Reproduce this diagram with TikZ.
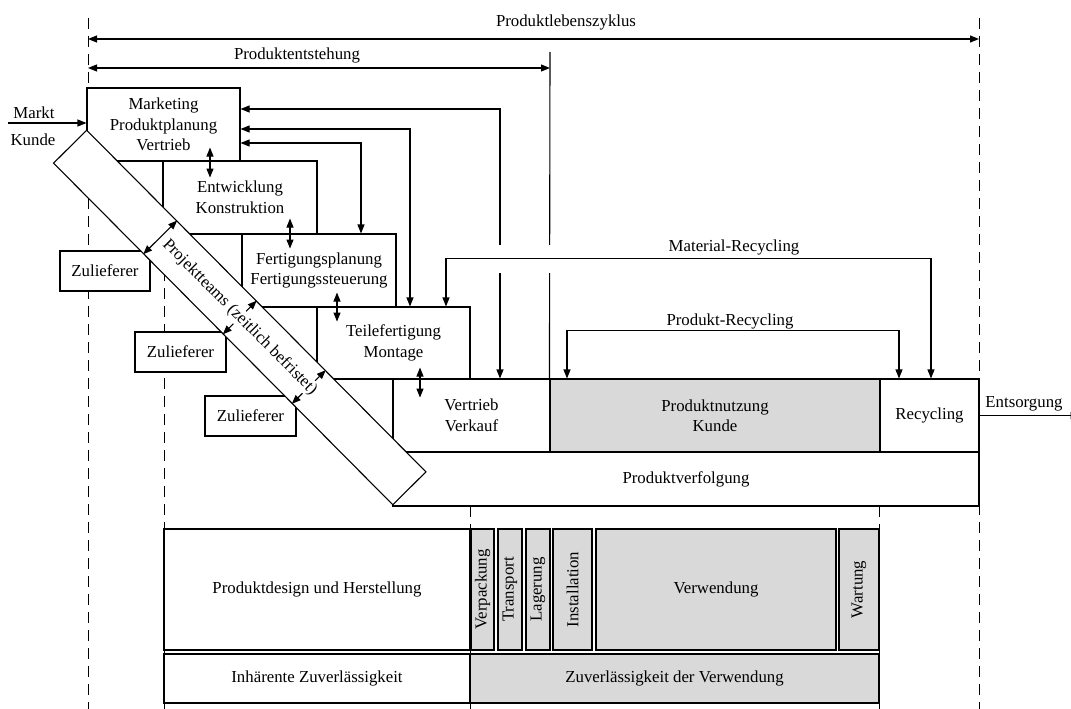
\documentclass[tikz,border=0pt]{standalone}
\usepackage{fontspec}
\setmainfont{Liberation Serif}
\usetikzlibrary{arrows.meta,calc}
\definecolor{usegray}{gray}{0.85}
\begin{document}
\begin{tikzpicture}[x=1pt,y=-1pt,
  every node/.style={font=\fontsize{16.8}{20.5}\selectfont, inner sep=0pt},
  box/.style={draw, fill=white, line width=1.1pt, align=center},
  shadebox/.style={box, fill=usegray},
  conn/.style={line width=1.1pt},
  dbl/.style={conn, {Triangle[length=9pt,width=7pt]}-{Triangle[length=9pt,width=7pt]}},
  arr/.style={conn, -{Triangle[length=9pt,width=7pt]}},
  border/.style={line width=1pt, dash pattern=on 11pt off 7pt},
]
\useasboundingbox (0,0) rectangle (1071,709);

% phase boundaries
\draw[border] (88,18) -- (88,709);
\draw[border] (979,18) -- (979,709);
\draw[border] (164,234) -- (164,709);
\draw[border] (470,506) -- (470,709);
\draw[border] (879,506) -- (879,709);

% life cycle spans
\node (plz) at (566,22) {Produktlebenszyklus};
\coordinate (plzL) at (88,39);
\coordinate (plzR) at (979,39);
\draw[dbl] (plzL) -- (plzR);
\node (pe) at (297,55) {Produktentstehung};
\coordinate (peL) at (88,68);
\coordinate (peR) at (550,68);
\draw[dbl] (peL) -- (peR);
\coordinate (peTop) at (550,52);

% suppliers
\node[box, minimum width=90pt, minimum height=40pt] (z1) at (105,271) {Zulieferer};
\node[box, minimum width=91pt, minimum height=40pt] (z2) at (180.5,352) {Zulieferer};
\node[box, minimum width=91pt, minimum height=40pt] (z3) at (250.5,416) {Zulieferer};

% process staircase
\node[box, minimum width=153pt, minimum height=73pt] (mkt) at (163.5,124.5) {Marketing\\Produktplanung\\Vertrieb};
\node[box, minimum width=154pt, minimum height=73pt] (ent) at (240,197.5) {Entwicklung\\Konstruktion};
\node[box, minimum width=154pt, minimum height=73pt] (fpl) at (319,270.5) {Fertigungsplanung\\Fertigungssteuerung};
\node[box, minimum width=153pt, minimum height=72pt] (tfm) at (393.5,343) {Teilefertigung\\Montage};
\node[box, minimum width=157pt, minimum height=73pt] (vtr) at (471.5,415.5) {Vertrieb\\Verkauf};
\node[shadebox, minimum width=330pt, minimum height=73pt] (nutz) at (715,415.5) {Produktnutzung\\Kunde};
\node[box, minimum width=99pt, minimum height=73pt] (rec) at (929.5,415.5) {Recycling};
\node[box, minimum width=586pt, minimum height=54pt] (pv) at (686,479) {Produktverfolgung};

% reliability blocks
\node[box, minimum width=306pt, minimum height=121pt] (pdh) at (317,589.5) {Produktdesign und Herstellung};
\node[shadebox, rotate=90, minimum width=121pt, minimum height=23pt] (vp) at (482.5,589.5) {Verpackung};
\node[shadebox, rotate=90, minimum width=121pt, minimum height=24pt] (tr) at (510,589.5) {Transport};
\node[shadebox, rotate=90, minimum width=121pt, minimum height=24pt] (lg) at (538,589.5) {Lagerung};
\node[shadebox, rotate=90, minimum width=121pt, minimum height=39pt] (ins) at (572.5,589.5) {Installation};
\node[shadebox, minimum width=240pt, minimum height=121pt] (vw) at (716,589.5) {Verwendung};
\node[shadebox, rotate=90, minimum width=121pt, minimum height=40pt] (wt) at (859,589.5) {Wartung};
\node[box, minimum width=306pt, minimum height=49pt] (iz) at (317,678.5) {Inhärente Zuverlässigkeit};
\node[shadebox, minimum width=409pt, minimum height=49pt] (zv) at (674.5,678.5) {Zuverlässigkeit der Verwendung};

% feedback from marketing
\draw[dbl] ($(mkt.east)+(0,-15.5)$) -| ($(vtr.north)+(28.5,0)$);
\draw[dbl] ($(mkt.east)+(0,4.5)$) -| ($(tfm.north)+(16.5,0)$);
\draw[dbl] ($(mkt.east)+(0,18.5)$) -| ($(fpl.north)+(42,0)$);
\draw[conn] (peTop) -- (nutz.north west);

% line crossings under the material loop
\fill[white] (494,245) rectangle (506,273);
\fill[white] (544,245) rectangle (556,273);

% recycling loops
\draw[dbl] ($(tfm.north)+(52.5,0)$) -- ++(0,-48) -| ($(rec.north)+(1.5,0)$);
\node (lmat) at (734,247) {Material-Recycling};
\draw[dbl] ($(nutz.north)+(-148,0)$) -- ++(0,-48) -| ($(rec.north)+(-30.5,0)$);
\node (lprod) at (730,321) {Produkt-Recycling};

% hand-overs between stages
\draw[dbl] ($(mkt.south)+(46.5,-14)$) -- ($(mkt.south)+(46.5,16)$);
\draw[dbl] ($(ent.south)+(50,-16)$) -- ($(ent.south)+(50,14)$);
\draw[dbl] ($(fpl.south)+(18,-15)$) -- ($(fpl.south)+(18,14)$);
\draw[dbl] ($(tfm.south)+(26.5,-12)$) -- ($(tfm.south)+(26.5,18)$);

% project team band
\node[draw, fill=white, line width=1.1pt, minimum width=481.5pt, minimum height=46.7pt, rotate=-45.2] (band) at (239.75,317.5) {};
\foreach \f in {0.266,0.5,0.703}
  \draw[dbl] ($(band.south west)!\f!(band.south east)$) -- ($(band.north west)!\f!(band.north east)$);
\node[rotate=-45.2, fill=white, inner sep=1pt] (bandtxt) at (band.center) {Projektteams (zeitlich befristet)};

% market input
\node (markt) at (34,113) {Markt};
\node (kunde) at (33,140) {Kunde};
\coordinate (mk0) at (8,123);
\draw[arr] (mk0) -- (mkt.west |- mk0);

% disposal output
\node (ents) at (1024,404) {Entsorgung};
\begin{scope}
  \clip (0,0) rectangle (1071,709);
  \draw[arr] (rec.east) -- ++(100,0);
\end{scope}
\end{tikzpicture}
\end{document}
